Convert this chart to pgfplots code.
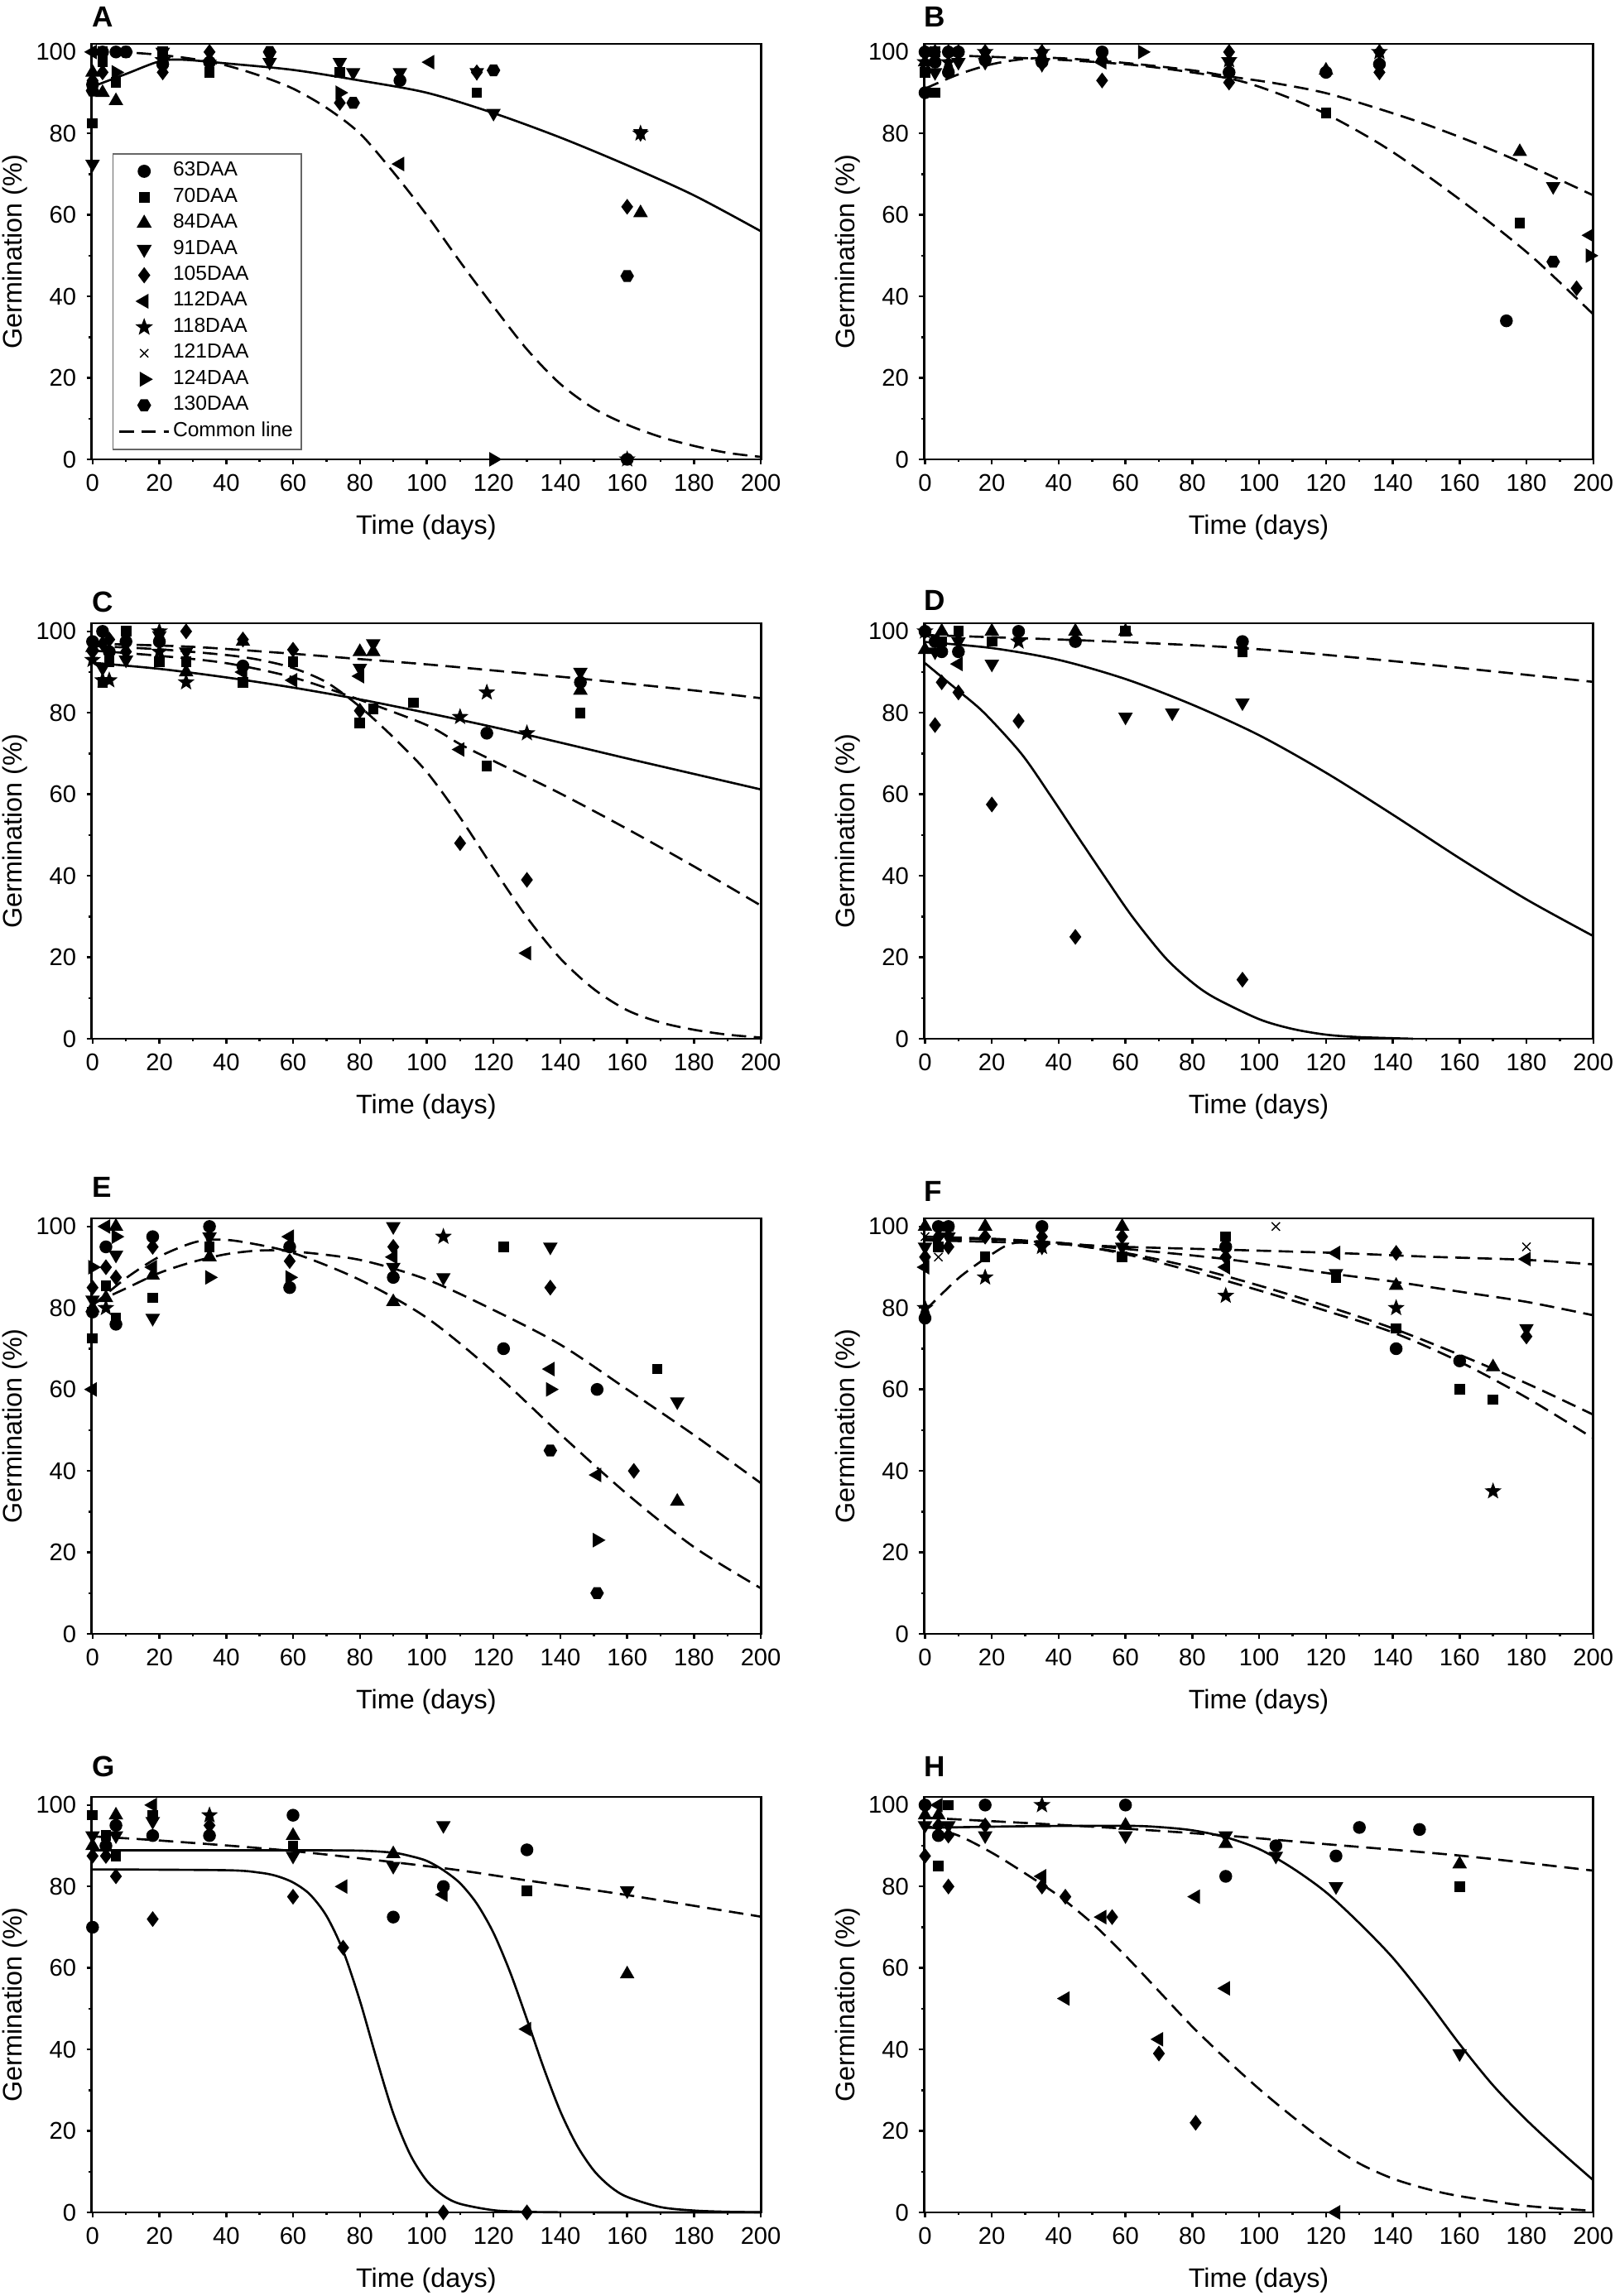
\documentclass[border=0pt]{standalone}
\usepackage{pgfplots}
\pgfplotsset{compat=1.18}
\usepackage{fontspec}
\setmainfont{Liberation Sans}
\setsansfont{Liberation Sans}

\pgfdeclareplotmark{tdown}{%
 \pgfpathmoveto{\pgfpointpolar{270}{\pgfplotmarksize}}%
 \pgfpathlineto{\pgfpointpolar{30}{\pgfplotmarksize}}%
 \pgfpathlineto{\pgfpointpolar{150}{\pgfplotmarksize}}%
 \pgfpathclose\pgfusepathqfillstroke}
\pgfdeclareplotmark{tleft}{%
 \pgfpathmoveto{\pgfpointpolar{180}{\pgfplotmarksize}}%
 \pgfpathlineto{\pgfpointpolar{300}{\pgfplotmarksize}}%
 \pgfpathlineto{\pgfpointpolar{60}{\pgfplotmarksize}}%
 \pgfpathclose\pgfusepathqfillstroke}
\pgfdeclareplotmark{tright}{%
 \pgfpathmoveto{\pgfpointpolar{0}{\pgfplotmarksize}}%
 \pgfpathlineto{\pgfpointpolar{120}{\pgfplotmarksize}}%
 \pgfpathlineto{\pgfpointpolar{240}{\pgfplotmarksize}}%
 \pgfpathclose\pgfusepathqfillstroke}
\pgfdeclareplotmark{hexa}{%
 \pgfpathmoveto{\pgfpointpolar{0}{\pgfplotmarksize}}%
 \pgfpathlineto{\pgfpointpolar{60}{\pgfplotmarksize}}%
 \pgfpathlineto{\pgfpointpolar{120}{\pgfplotmarksize}}%
 \pgfpathlineto{\pgfpointpolar{180}{\pgfplotmarksize}}%
 \pgfpathlineto{\pgfpointpolar{240}{\pgfplotmarksize}}%
 \pgfpathlineto{\pgfpointpolar{300}{\pgfplotmarksize}}%
 \pgfpathclose\pgfusepathqfillstroke}
\pgfdeclareplotmark{fstar}{%
 \pgfpathmoveto{\pgfpointpolar{90}{\pgfplotmarksize}}%
 \pgfpathlineto{\pgfpointpolar{126}{0.42\pgfplotmarksize}}%
 \pgfpathlineto{\pgfpointpolar{162}{\pgfplotmarksize}}%
 \pgfpathlineto{\pgfpointpolar{198}{0.42\pgfplotmarksize}}%
 \pgfpathlineto{\pgfpointpolar{234}{\pgfplotmarksize}}%
 \pgfpathlineto{\pgfpointpolar{270}{0.42\pgfplotmarksize}}%
 \pgfpathlineto{\pgfpointpolar{306}{\pgfplotmarksize}}%
 \pgfpathlineto{\pgfpointpolar{342}{0.42\pgfplotmarksize}}%
 \pgfpathlineto{\pgfpointpolar{18}{\pgfplotmarksize}}%
 \pgfpathlineto{\pgfpointpolar{54}{0.42\pgfplotmarksize}}%
 \pgfpathclose\pgfusepathqfillstroke}

\tikzset{letter/.style={anchor=base west, inner sep=0pt, font=\bfseries\fontsize{10}{10}\selectfont}}

\pgfplotsset{
 panel/.style={
  scale only axis, width=8.085cm, height=5.02cm,
  xmin=-0.3, xmax=200, ymin=0, ymax=102,
  xtick={0,20,...,200}, ytick={0,20,...,100},
  minor x tick num=1, minor y tick num=1,
  tick align=outside, tick pos=left,
  major tick length=0.06cm, minor tick length=0.035cm,
  axis line style={line width=0.8pt},
  every tick/.style={black, line width=0.7pt},
  tick label style={font=\fontsize{8.3}{9}\selectfont},
  /pgf/number format/assume math mode=true,
  label style={font=\fontsize{9.2}{10}\selectfont},
  xlabel={Time (days)}, ylabel={Germination (\%)},
  xlabel style={at={(axis description cs:0.5,-0.163)}, anchor=center},
  ylabel style={at={(axis description cs:-0.114,0.5)}, anchor=center},
  clip=false,
 },
 pts/.style={scatter, only marks, scatter src=explicit symbolic,
  scatter/classes={
   a={mark=*, mark size=2pt, draw=black, fill=black},
   b={mark=square*, mark size=1.6pt, draw=black, fill=black},
   c={mark=triangle*, mark size=2.5pt, draw=black, fill=black},
   d={mark=tdown, mark size=2.5pt, draw=black, fill=black},
   e={mark=diamond*, mark size=2.4pt, draw=black, fill=black},
   f={mark=tleft, mark size=2.5pt, draw=black, fill=black},
   g={mark=fstar, mark size=2.5pt, draw=black, fill=black},
   h={mark=x, mark size=2pt, draw=black, line width=0.4pt},
   i={mark=tright, mark size=2.5pt, draw=black, fill=black},
   j={mark=hexa, mark size=2.1pt, draw=black, fill=black}}},
 sline/.style={black, line width=0.75pt, smooth, no marks},
 dline/.style={black, line width=0.75pt, smooth, no marks, dash pattern=on 5pt off 2.6pt},
}

\begin{document}
\begin{tikzpicture}
\path[use as bounding box] (0,0) rectangle (19.5,27.74);

% ---------------- A
\begin{axis}[panel, at={(1.106cm,22.19cm)}, anchor=south west,
  legend cell align=left,
  legend style={at={(0.031,0.737)}, anchor=north west, draw=black!60, line width=0.5pt,
   fill=white, font=\fontsize{7}{8}\selectfont, row sep=0.55pt, inner sep=1.8pt,
   nodes={inner sep=1pt}}]
\addplot[pts] table[x=x,y=y,meta=c]{
x y c
0 100 f
0 95 c
0 93 e
0 92 a
0 90.5 j
0 82.5 b
0 72.5 d
3 100 b
3 100 a
3 97.5 b
3 95 e
3 90 c
7 100 a
7 95 i
7 92.5 b
7 88 c
10 100 a
10 100 j
21 100 d
21 100 b
21 98 g
21 97 a
21 95 e
35 100 e
35 97.5 a
35 97 d
35 95 b
53 100 j
53 97.5 d
74 97.5 d
74 95 b
74 90 i
74 87.5 e
78 95 d
78 87.5 j
92 95 d
92 93 a
92 72.5 f
101 97.5 f
115 95 e
115 95 d
115 90 b
120 95.5 j
120 85 d
120 0 i
160 62 e
160 45 j
160 0 g
160 0 a
164 80 d
164 80 g
164 60.5 c
};
\addplot[dline] coordinates {(0,100) (10,99.9) (20,99.3) (30,98.3) (40,96.7) (50,94.2) (60,91) (70,86.3) (80,80) (90,70.5) (100,60) (110,48.5) (120,37.5) (130,27) (140,18.5) (150,12.5) (160,8.5) (170,5.5) (180,3.3) (190,1.6) (200,0.6)};
\addplot[sline] coordinates {(0,91.5) (10,94.6) (20,97.7) (27,98.1) (40,97.2) (60,95.6) (80,93) (100,90) (120,85) (140,79) (160,72.2) (180,64.8) (200,56)};
\legend{63DAA,70DAA,84DAA,91DAA,105DAA,112DAA,118DAA,121DAA,124DAA,130DAA,Common line}
\node[letter] at (axis description cs:0,1.04) {A};
\end{axis}

% ---------------- B
\begin{axis}[panel, at={(11.1625cm,22.19cm)}, anchor=south west]
\addplot[pts] table[x=x,y=y,meta=c]{
x y c
0 100 e
0 100 a
0 97.5 c
0 97.5 g
0 95 b
0 90 a
3 100 b
3 100 e
3 97.5 a
3 95 d
3 90 b
7 100 e
7 100 a
7 97.5 g
7 95 a
10 100 a
10 100 e
10 97.5 d
18 100 e
18 100 g
18 98 a
18 97.5 d
35 100 e
35 100 g
35 97.5 a
35 97 d
53 100 a
53 98.5 c
53 97.5 f
53 93 e
65 100 i
91 100 e
91 98 g
91 97.5 d
91 95 a
91 92.5 e
120 95.5 c
120 95 a
120 85 b
136 100 g
136 100 e
136 97 a
136 95 e
174 34 a
178 75.5 c
178 58 b
188 67 d
188 48.5 j
195 42 e
199 55 f
199 50 i
};
\addplot[dline] coordinates {(0,91) (10,94.5) (20,97) (30,98.3) (40,98.5) (60,97.3) (80,95.5) (91,94) (105,92.3) (120,89.9) (136,86) (150,82.2) (166,77.2) (182,71.6) (200,64.8)};
\addplot[dline] coordinates {(0,99.3) (10,99.1) (20,98.8) (40,98.1) (65,96.6) (91,93.5) (105,90) (120,84.8) (136,77.5) (150,69.8) (166,60.1) (182,49.5) (200,35.6)};
\node[letter] at (axis description cs:0,1.04) {B};
\end{axis}

% ---------------- C
\begin{axis}[panel, at={(1.106cm,15.19cm)}, anchor=south west]
\addplot[pts] table[x=x,y=y,meta=c]{
x y c
0 97.5 a
0 96 c
0 95 e
0 93 g
3 100 a
3 97 e
3 91 d
3 88 g
3 87.5 b
5 98 e
5 95 a
5 92.5 b
5 88 g
10 100 b
10 97.5 a
10 95 e
10 93 d
20 100 g
20 99 d
20 97.5 a
20 95 g
20 92.5 b
28 100 e
28 95 d
28 92.5 b
28 90 c
28 87.5 g
45 98 e
45 97.5 c
45 91.5 a
45 90 f
45 87.5 b
60 95.5 e
60 92.5 b
60 88 f
80 95 c
80 91 d
80 89 f
80 80.5 e
80 77.5 b
84 97 d
84 95 c
84 81 b
96 82.5 b
110 79 g
110 71 f
110 48 e
118 85 g
118 75 a
118 67 b
130 75 g
130 39 e
130 21 f
146 90 d
146 87.5 a
146 85.5 c
146 80 b
};
\addplot[sline] coordinates {(0,92.3) (20,90.8) (40,88.7) (60,86.2) (80,83.3) (100,80) (120,76.5) (140,72.7) (160,68.8) (180,65) (200,61.2)};
\addplot[dline] coordinates {(0,97) (30,96.2) (60,94.5) (80,93.2) (100,91.9) (120,90.4) (146,88.4) (160,87.2) (180,85.5) (200,83.6)};
\addplot[dline] coordinates {(0,95.3) (20,94) (40,92.2) (60,88.7) (80,83.2) (100,77) (110,72.3) (120,68.2) (140,60.2) (160,51.5) (180,42.3) (200,32.7)};
\addplot[dline] coordinates {(0,96.4) (20,95.6) (40,94.2) (50,93) (60,91) (70,87.5) (80,81.5) (90,74) (100,65.5) (110,54.3) (120,41.8) (130,29.8) (140,19.7) (150,12.2) (160,7) (170,4) (180,2.2) (190,1) (200,0.3)};
\node[letter] at (axis description cs:0,1.026) {C};
\end{axis}

% ---------------- D
\begin{axis}[panel, at={(11.1625cm,15.19cm)}, anchor=south west]
\addplot[pts] table[x=x,y=y,meta=c]{
x y c
0 100 e
0 100 a
0 100 g
0 95.5 c
3 97.5 a
3 95 d
3 77 e
5 100 c
5 97.5 b
5 95 a
5 87.5 e
10 100 b
10 97.5 d
10 95 a
10 92 f
10 85 e
20 100 c
20 97.5 b
20 92 d
20 57.5 e
28 100 a
28 97.5 g
28 78 e
45 100 c
45 97.5 a
45 25 e
60 100 c
60 100 b
60 79 d
74 80 d
95 97.5 a
95 95 b
95 82.5 d
95 14.5 e
};
\addplot[dline] coordinates {(0,99.1) (50,97.7) (95,95.9) (140,92.7) (200,87.6)};
\addplot[sline] coordinates {(0,97.4) (20,95.9) (40,93) (60,88.3) (80,82) (100,74.5) (120,65.3) (140,55) (160,44.3) (180,34.2) (200,25.2)};
\addplot[sline] coordinates {(0,92.2) (5,88.8) (10,85.4) (17.7,80) (28.8,70) (37.3,60) (45.4,50) (53.6,40) (62,30) (71.8,20) (80,13.8) (86.8,10) (100,4.8) (110,2.4) (120,1) (130,0.4) (146,0)};
\node[letter] at (axis description cs:0,1.031) {D};
\end{axis}

% ---------------- E
\begin{axis}[panel, at={(1.106cm,8.00cm)}, anchor=south west]
\addplot[pts] table[x=x,y=y,meta=c]{
x y c
0 90 i
0 85 e
0 82 d
0 80 c
0 79 a
0 72.5 b
0 60 f
4 100 f
4 95 a
4 90 e
4 85.5 b
4 82.5 c
4 80 g
7 100 c
7 97.5 i
7 93 d
7 87.5 e
7 77.5 b
7 76 a
18 97.5 a
18 95 e
18 90 f
18 88 c
18 82.5 b
18 77.5 d
35 100 a
35 97.5 d
35 95 b
35 92.5 c
35 87.5 i
59 97.5 f
59 95 a
59 91.5 e
59 87.5 i
59 85 a
90 100 d
90 95 e
90 92.5 f
90 90 d
90 87.5 a
90 81.5 c
105 97.5 g
105 87.5 d
123 95 b
123 70 a
137 95 d
137 85 e
137 65 f
137 60 i
137 45 j
151 60 a
151 39 f
151 23 i
151 10 j
162 40 e
169 65 b
175 57 d
175 32.5 c
};
\addplot[dline] coordinates {(0,80.6) (10,87.3) (20,92.6) (30,96) (37,96.8) (45,96.2) (60,93.5) (80,86.9) (100,77.6) (120,64.3) (140,49) (160,34.3) (180,21.3) (200,11.2)};
\addplot[dline] coordinates {(0,81) (10,84.8) (20,88.6) (30,91.3) (40,93.2) (50,94.1) (60,93.9) (80,91.8) (100,87) (120,79.5) (140,71) (160,60) (180,48.8) (200,37)};
\node[letter] at (axis description cs:0,1.05) {E};
\end{axis}

% ---------------- F
\begin{axis}[panel, at={(11.1625cm,8.00cm)}, anchor=south west]
\addplot[pts] table[x=x,y=y,meta=c]{
x y c
0 100 c
0 97.5 h
0 95 d
0 92.5 e
0 90 f
0 80 g
0 77.5 a
4 100 a
4 97.5 e
4 95 b
4 92.5 h
7 100 a
7 100 b
7 97.5 d
7 95 e
18 100 c
18 97.5 e
18 92.5 b
18 87.5 g
35 100 a
35 97.5 e
35 95 d
35 95 g
59 100 c
59 97.5 e
59 95 d
59 92.5 b
90 97.5 b
90 95 a
90 92.5 e
90 90 f
90 83 g
105 100 h
123 93.5 f
123 88.5 d
123 87.5 b
141 93.5 e
141 85.5 c
141 80 g
141 75 b
141 70 a
160 67 a
160 60 b
170 65.5 c
170 57.5 b
170 35 g
180 95 h
180 92 f
180 75 d
180 73 e
};
\addplot[dline] coordinates {(0,96.6) (30,96) (60,95) (90,94.3) (123,93.5) (150,92.6) (180,91.8) (200,90.7)};
\addplot[dline] coordinates {(0,97.5) (20,97) (40,96) (60,94.5) (90,92) (120,88.6) (140,86.5) (160,84) (180,81.5) (200,78.2)};
\addplot[dline] coordinates {(0,97) (20,96.8) (40,95.8) (60,93.5) (80,90) (100,85.5) (120,80.5) (140,75) (160,68.5) (180,61.5) (200,53.8)};
\addplot[dline] coordinates {(0,79.3) (10,87.3) (20,93.2) (27,96) (40,96) (60,93.2) (80,89) (100,84.3) (120,79.3) (140,74) (160,66.8) (180,58) (200,48)};
\node[letter] at (axis description cs:0,1.04) {F};
\end{axis}

% ---------------- G
\begin{axis}[panel, at={(1.106cm,1.01cm)}, anchor=south west]
\addplot[pts] table[x=x,y=y,meta=c]{
x y c
0 97.5 b
0 92.5 d
0 90 c
0 87.5 e
0 70 a
4 92.5 b
4 90 a
4 87.5 e
7 97.5 c
7 95 a
7 92.5 d
7 87.5 b
7 82.5 e
18 100 f
18 97.5 b
18 96 d
18 92.5 a
18 72 e
35 97.5 g
35 95 e
35 92.5 a
60 97.5 a
60 92.5 c
60 90 b
60 87.5 d
60 77.5 e
75 80 f
75 65 e
90 88 c
90 85 d
90 72.5 a
105 95 d
105 80 a
105 78 f
105 0 e
130 89 a
130 79 b
130 45 f
130 0 e
160 79 d
160 58.5 c
};
\addplot[dline] coordinates {(0,92.3) (20,91.3) (60,88.7) (105,84.5) (130,81.5) (160,77.9) (200,72.6)};
\addplot[sline] coordinates {(0,88.9) (60,88.9) (80,88.8) (90,88.3) (95,87.5) (100,86.3) (105,84) (110,80.8) (115,75.8) (120,68.6) (125,58.9) (130,47.4) (135,35.5) (140,24.8) (145,16.4) (150,10.3) (155,6.3) (160,3.8) (170,1.3) (180,0.46) (190,0.15) (200,0.05)};
\addplot[sline] coordinates {(0,84.2) (40,84) (50,83.4) (55,82.6) (60,81) (65,78.1) (70,72.8) (75,64.2) (80,52) (85,37.7) (90,24.3) (95,14.3) (100,7.8) (105,4.1) (110,2.1) (120,0.54) (130,0.14) (145,0.02) (200,0)};
\node[letter] at (axis description cs:0,1.048) {G};
\end{axis}

% ---------------- H
\begin{axis}[panel, at={(11.1625cm,1.01cm)}, anchor=south west]
\addplot[pts] table[x=x,y=y,meta=c]{
x y c
0 100 a
0 97.5 c
0 95 d
0 87.5 e
4 100 f
4 97.5 c
4 95 e
4 92.5 a
4 85 b
7 100 b
7 95 d
7 92.5 e
7 80 e
18 100 a
18 95 e
18 92.5 d
35 100 g
35 82.5 f
35 80 e
42 77.5 e
42 52.5 f
53 72.5 f
56 72.5 e
60 100 a
60 95 c
60 92.5 d
70 42.5 f
70 39 e
81 77.5 f
81 22 e
90 92.5 d
90 90.5 c
90 82.5 a
90 55 f
105 90 a
105 87.5 d
123 87.5 a
123 80 d
123 0 f
130 94.5 a
148 94 a
160 85.5 c
160 80 b
160 39 d
};
\addplot[dline] coordinates {(0,96.9) (30,95.6) (60,94.2) (90,92.5) (120,90.4) (160,87.6) (200,83.9)};
\addplot[sline] coordinates {(0,94.4) (30,94.8) (60,94.9) (70,94.6) (80,93.8) (90,92.1) (100,89.2) (110,84.5) (120,78.6) (130,71) (140,62.5) (150,52.3) (160,41.3) (170,31.2) (180,22.7) (190,15.1) (200,7.9)};
\addplot[dline] coordinates {(0,95) (10,92.5) (20,88.3) (30,83.2) (40,77.7) (50,71) (60,63) (70,54.3) (80,45.6) (90,37.7) (100,30.3) (110,23.5) (120,17.2) (130,12) (140,8.3) (150,5.8) (160,4) (180,1.6) (200,0.4)};
\node[letter] at (axis description cs:0,1.048) {H};
\end{axis}
\end{tikzpicture}
\end{document}
